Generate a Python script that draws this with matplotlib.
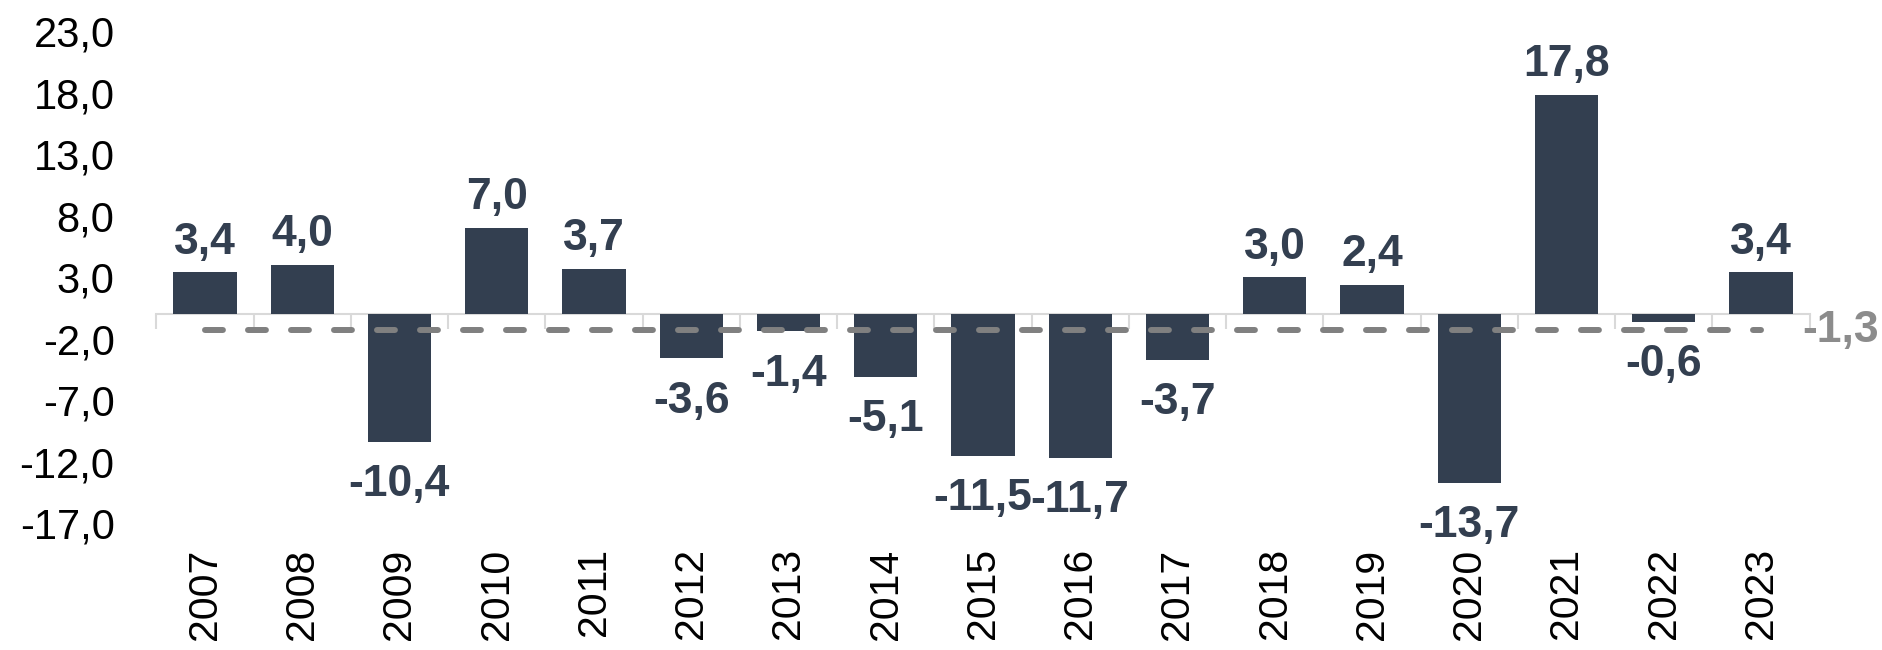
import numpy as np
import matplotlib.pyplot as plt

plt.rcParams['font.family'] = ['Liberation Sans', 'DejaVu Sans']

years = ['2007', '2008', '2009', '2010', '2011', '2012', '2013', '2014', '2015',
         '2016', '2017', '2018', '2019', '2020', '2021', '2022', '2023']
values = [3.4, 4.0, -10.4, 7.0, 3.7, -3.6, -1.4, -5.1, -11.5,
          -11.7, -3.7, 3.0, 2.4, -13.7, 17.8, -0.6, 3.4]
average = -1.3
yticks = [-17, -12, -7, -2, 3, 8, 13, 18, 23]

bar_color = '#333F50'
avg_color = '#808080'
axis_color = '#D9D9D9'

def fmt(v):
    return ('%.1f' % v).replace('.', ',')

x = np.arange(len(years))

fig = plt.figure(figsize=(18.83, 6.5), dpi=100)
ax = fig.add_axes([0.083, 0.195, 0.878, 0.757])

ax.bar(x, values, width=0.65, color=bar_color, zorder=2)
line, = ax.plot(x, [average] * len(x), color=avg_color, lw=4.3,
                solid_capstyle='round', dash_capstyle='round', zorder=3)
line.set_dashes((3.0, 4.2))

for xi, v in zip(x, values):
    if v >= 0:
        ax.annotate(fmt(v), (xi, v), xytext=(0, 7), textcoords='offset points',
                    ha='center', va='bottom', fontsize=32, fontweight='bold',
                    color=bar_color)
    else:
        ax.annotate(fmt(v), (xi, v), xytext=(0, -16), textcoords='offset points',
                    ha='center', va='top', fontsize=32, fontweight='bold',
                    color=bar_color)

ax.annotate(fmt(average), (x[-1] + 0.5, average), xytext=(-5, 0),
            textcoords='offset points', ha='left', va='center', fontsize=32,
            fontweight='bold', color='#8C8C8C')

ax.set_xlim(-0.5, len(x) - 0.5)
ax.set_ylim(-17, 23)
ax.set_yticks(yticks)
ax.set_yticklabels([fmt(t) for t in yticks])
ax.tick_params(axis='y', length=0, pad=30, labelsize=30, labelcolor='black')

# zero line with separators between categories
for s in ['top', 'right', 'left']:
    ax.spines[s].set_visible(False)
ax.spines['bottom'].set_position(('data', 0))
ax.spines['bottom'].set_color(axis_color)
ax.spines['bottom'].set_linewidth(1.5)
ax.spines['bottom'].set_zorder(1)
ax.set_xticks([])
ax.set_xticks(np.arange(-0.5, len(x), 1), minor=True)
ax.tick_params(axis='x', which='minor', length=11, width=1.5, color=axis_color,
               labelbottom=False)

sec = ax.secondary_xaxis(0.0)
sec.set_xticks(x)
sec.set_xticklabels(years, rotation=90)
sec.tick_params(length=0, pad=18, labelsize=29.5, labelcolor='black')
sec.spines['bottom'].set_visible(False)

fig.savefig('out.png', dpi=100)
